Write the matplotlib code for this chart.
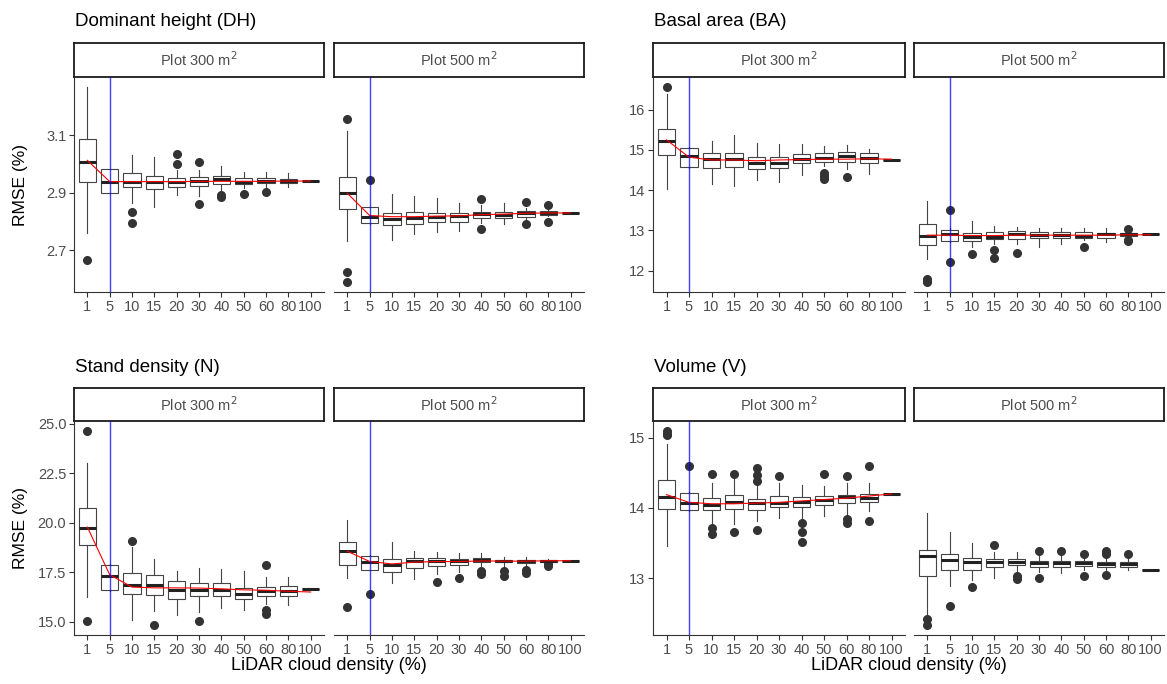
import matplotlib
matplotlib.use('Agg')
import matplotlib.pyplot as plt

plt.rcParams['font.family'] = ['Liberation Sans', 'DejaVu Sans']

densities = ['1', '5', '10', '15', '20', '30', '40', '50', '60', '80', '100']

# Dominant height (DH) - 300 m2
dh300_lo = [2.758, 2.897, 2.865, 2.848, 2.891, 2.888, 2.909, 2.915, 2.918, 2.918, 2.940]
dh300_q1 = [2.938, 2.899, 2.920, 2.912, 2.920, 2.924, 2.930, 2.930, 2.932, 2.933, 2.940]
dh300_med = [3.008, 2.937, 2.938, 2.938, 2.938, 2.940, 2.946, 2.938, 2.941, 2.940, 2.940]
dh300_q3 = [3.085, 2.981, 2.969, 2.957, 2.949, 2.955, 2.959, 2.952, 2.952, 2.948, 2.940]
dh300_hi = [3.268, 2.983, 3.029, 3.022, 2.978, 2.978, 2.994, 2.972, 2.972, 2.967, 2.940]
dh300_out = [[2.665], [], [2.831, 2.793], [], [3.034, 2.999], [3.008, 2.860],
             [2.891, 2.883], [2.895], [2.903], [], []]
dh300_mean = [3.012, 2.938, 2.938, 2.938, 2.938, 2.939, 2.939, 2.939, 2.939, 2.940, 2.940]

# Dominant height (DH) - 500 m2
dh500_lo = [2.732, 2.791, 2.735, 2.756, 2.763, 2.765, 2.795, 2.789, 2.801, 2.820, 2.828]
dh500_q1 = [2.842, 2.793, 2.786, 2.791, 2.798, 2.798, 2.810, 2.810, 2.816, 2.823, 2.828]
dh500_med = [2.897, 2.816, 2.808, 2.812, 2.816, 2.819, 2.825, 2.823, 2.829, 2.830, 2.828]
dh500_q3 = [2.955, 2.848, 2.830, 2.832, 2.830, 2.830, 2.832, 2.832, 2.835, 2.836, 2.828]
dh500_hi = [3.115, 2.850, 2.895, 2.888, 2.881, 2.865, 2.857, 2.865, 2.847, 2.840, 2.828]
dh500_out = [[3.155, 2.625, 2.588], [2.943], [], [], [], [], [2.878, 2.772], [],
             [2.866, 2.789], [2.857, 2.798], []]
dh500_mean = [2.897, 2.820, 2.816, 2.816, 2.818, 2.819, 2.823, 2.825, 2.828, 2.829, 2.829]

# Basal area (BA) - 300 m2
ba300_lo = [14.02, 14.55, 14.15, 14.10, 14.25, 14.19, 14.38, 14.60, 14.52, 14.40, 14.74]
ba300_q1 = [14.88, 14.57, 14.56, 14.58, 14.53, 14.56, 14.68, 14.71, 14.71, 14.68, 14.74]
ba300_med = [15.22, 14.84, 14.77, 14.77, 14.67, 14.68, 14.77, 14.79, 14.86, 14.79, 14.74]
ba300_q3 = [15.52, 15.06, 14.92, 14.93, 14.83, 14.82, 14.89, 14.92, 14.95, 14.92, 14.74]
ba300_hi = [16.38, 15.08, 15.21, 15.38, 15.17, 15.14, 15.14, 15.10, 15.12, 15.02, 14.74]
ba300_out = [[16.57], [], [], [], [], [], [], [14.42, 14.35, 14.27], [14.33], [], []]
ba300_mean = [15.25, 14.82, 14.75, 14.75, 14.73, 14.75, 14.76, 14.77, 14.77, 14.78, 14.77]

# Basal area (BA) - 500 m2
ba500_lo = [12.28, 12.70, 12.58, 12.67, 12.65, 12.58, 12.67, 12.75, 12.71, 12.85, 12.90]
ba500_q1 = [12.63, 12.73, 12.73, 12.78, 12.78, 12.80, 12.80, 12.80, 12.80, 12.87, 12.90]
ba500_med = [12.87, 12.92, 12.83, 12.83, 12.90, 12.88, 12.89, 12.87, 12.90, 12.90, 12.90]
ba500_q3 = [13.15, 13.02, 12.94, 12.95, 12.98, 12.96, 12.96, 12.95, 12.93, 12.93, 12.90]
ba500_hi = [13.73, 13.05, 13.23, 13.10, 13.08, 13.07, 13.06, 13.07, 13.06, 12.95, 12.90]
ba500_out = [[11.79, 11.75, 11.71], [13.50, 12.22], [12.40], [12.52, 12.31], [12.44], [],
             [], [12.58], [], [13.03, 12.75, 12.73], []]
ba500_mean = [12.88, 12.88, 12.87, 12.87, 12.88, 12.88, 12.88, 12.88, 12.88, 12.89, 12.89]

# Stand density (N) - 300 m2
n300_lo = [16.26, 16.55, 15.12, 15.54, 15.37, 15.50, 15.71, 15.59, 15.92, 15.84, 16.68]
n300_q1 = [18.90, 16.61, 16.43, 16.34, 16.18, 16.31, 16.31, 16.14, 16.31, 16.29, 16.68]
n300_med = [19.77, 17.30, 16.85, 16.85, 16.60, 16.60, 16.60, 16.43, 16.56, 16.55, 16.68]
n300_q3 = [20.75, 17.90, 17.47, 17.39, 17.05, 16.98, 16.97, 16.71, 16.76, 16.83, 16.68]
n300_hi = [23.02, 17.95, 18.78, 18.16, 17.55, 17.72, 17.66, 17.55, 17.27, 17.27, 16.68]
n300_out = [[24.66, 15.03], [], [19.08], [14.83], [], [15.03], [], [],
            [17.86, 15.59, 15.42], [], []]
n300_mean = [19.79, 17.38, 16.76, 16.72, 16.72, 16.71, 16.67, 16.62, 16.60, 16.55, 16.51]

# Stand density (N) - 500 m2
n500_lo = [17.21, 17.60, 16.97, 17.17, 17.42, 17.51, 17.76, 17.85, 17.85, 18.02, 18.08]
n500_q1 = [17.88, 17.63, 17.51, 17.71, 17.81, 17.89, 18.02, 18.02, 18.00, 18.02, 18.08]
n500_med = [18.57, 18.05, 17.89, 18.10, 18.07, 18.10, 18.12, 18.08, 18.07, 18.08, 18.08]
n500_q3 = [19.03, 18.35, 18.18, 18.23, 18.23, 18.18, 18.25, 18.13, 18.13, 18.13, 18.08]
n500_hi = [20.17, 18.38, 19.03, 18.60, 18.52, 18.47, 18.47, 18.27, 18.27, 18.20, 18.08]
n500_out = [[15.74], [16.41], [], [], [17.00], [17.21], [17.59, 17.42], [17.59, 17.34],
            [17.62, 17.47], [17.92, 17.85], []]
n500_mean = [18.57, 18.05, 17.93, 18.02, 18.05, 18.05, 18.08, 18.07, 18.07, 18.09, 18.09]

# Volume (V) - 300 m2
v300_lo = [13.46, 13.95, 13.77, 13.77, 13.81, 13.86, 13.85, 13.89, 13.92, 13.96, 14.20]
v300_q1 = [13.99, 13.97, 13.97, 13.99, 13.97, 14.01, 14.01, 14.04, 14.07, 14.08, 14.20]
v300_med = [14.16, 14.07, 14.04, 14.08, 14.07, 14.07, 14.08, 14.11, 14.16, 14.14, 14.20]
v300_q3 = [14.40, 14.21, 14.14, 14.18, 14.13, 14.17, 14.16, 14.17, 14.19, 14.20, 14.20]
v300_hi = [14.91, 14.23, 14.36, 14.45, 14.31, 14.36, 14.33, 14.32, 14.36, 14.36, 14.20]
v300_out = [[15.10, 15.06, 15.04], [14.60], [14.48, 13.72, 13.63], [14.48, 13.66],
            [14.57, 14.47, 14.38, 13.69], [14.46], [13.78, 13.66, 13.52], [14.48],
            [14.46, 13.84, 13.79], [14.60, 13.81], []]
v300_mean = [14.19, 14.08, 14.06, 14.06, 14.07, 14.08, 14.10, 14.12, 14.14, 14.17, 14.20]

# Volume (V) - 500 m2
v500_lo = [12.43, 12.89, 12.97, 13.01, 13.08, 13.09, 13.08, 13.12, 13.10, 13.12, 13.12]
v500_q1 = [13.03, 13.12, 13.12, 13.16, 13.19, 13.16, 13.16, 13.17, 13.16, 13.16, 13.12]
v500_med = [13.31, 13.26, 13.23, 13.23, 13.23, 13.22, 13.22, 13.22, 13.20, 13.20, 13.12]
v500_q3 = [13.40, 13.35, 13.29, 13.27, 13.27, 13.25, 13.24, 13.24, 13.23, 13.23, 13.12]
v500_hi = [13.93, 13.66, 13.50, 13.38, 13.38, 13.34, 13.32, 13.30, 13.30, 13.30, 13.12]
v500_out = [[12.42, 12.33], [12.60], [12.88], [13.48], [13.03, 12.99], [13.39, 13.00],
            [13.39], [13.34, 13.03], [13.39, 13.35, 13.05], [13.35], []]
v500_mean = None

W, H = 1167, 684
fig = plt.figure(figsize=(W / 100, H / 100), dpi=100)


def px(x0, y0, x1, y1):
    # pixel box (top-left origin) -> figure fraction rect
    return [x0 / W, 1 - y1 / H, (x1 - x0) / W, (y1 - y0) / H]


def stats(lo, q1, med, q3, hi, out):
    return [dict(whislo=lo[i], q1=q1[i], med=med[i], q3=q3[i], whishi=hi[i], fliers=out[i])
            for i in range(len(med))]


def limits(*groups):
    # shared y range of both facets, expanded 5% like ggplot
    vals = []
    for lo, hi, out in groups:
        vals += lo + hi + [v for o in out for v in o]
    mn, mx = min(vals), max(vals)
    pad = (mx - mn) * 0.05
    return mn - pad, mx + pad


def panel(rect_strip, rect_ax, label, data, ylim, yticks, yfmt, first, blue=True):
    lo, q1, med, q3, hi, out, mean = data
    sax = fig.add_axes(px(*rect_strip))
    sax.set_xticks([])
    sax.set_yticks([])
    for s in sax.spines.values():
        s.set_linewidth(1.3)
        s.set_color('#1a1a1a')
    sax.text(0.5, 0.5, label, ha='center', va='center', fontsize=10.5, color='#4D4D4D',
             transform=sax.transAxes)

    ax = fig.add_axes(px(*rect_ax))
    pos = list(range(1, len(densities) + 1))
    ax.bxp(stats(lo, q1, med, q3, hi, out), positions=pos, widths=0.78,
           patch_artist=True, showcaps=False,
           boxprops=dict(facecolor='white', edgecolor='#444444', linewidth=0.8),
           medianprops=dict(color='#222222', linewidth=2.2),
           whiskerprops=dict(color='#444444', linewidth=0.8),
           flierprops=dict(marker='o', markerfacecolor='#333333', markeredgecolor='#333333',
                           markersize=5.5))
    if mean is not None:
        ax.plot(pos, mean, color='red', linewidth=0.8, zorder=4)
    if blue:
        ax.axvline(2, color='blue', linewidth=1.0, alpha=0.75, zorder=5)
    ax.set_xlim(0.4, len(densities) + 0.6)
    ax.set_ylim(*ylim)
    ax.set_xticks(pos)
    ax.set_xticklabels(densities, fontsize=10.5, color='#4D4D4D')
    ax.spines['top'].set_visible(False)
    ax.spines['right'].set_visible(False)
    ax.spines['bottom'].set_color('#333333')
    ax.spines['left'].set_color('#333333')
    ax.tick_params(axis='x', length=3.5, color='#333333', pad=2)
    if first:
        ax.set_yticks(yticks)
        ax.set_yticklabels([yfmt.format(t) for t in yticks], fontsize=10.5, color='#4D4D4D')
        ax.tick_params(axis='y', length=3.5, color='#333333', pad=2)
    else:
        ax.spines['left'].set_visible(False)
        ax.set_yticks([])
    ax.set_facecolor('none')
    return ax


lab300 = 'Plot 300 m$^2$'
lab500 = 'Plot 500 m$^2$'

# top-left: DH
lim = limits((dh300_lo, dh300_hi, dh300_out), (dh500_lo, dh500_hi, dh500_out))
panel((74, 43, 324, 77), (74, 77, 324, 292), lab300,
      (dh300_lo, dh300_q1, dh300_med, dh300_q3, dh300_hi, dh300_out, dh300_mean),
      lim, [2.7, 2.9, 3.1], '{:.1f}', True)
panel((334, 43, 584, 77), (334, 77, 584, 292), lab500,
      (dh500_lo, dh500_q1, dh500_med, dh500_q3, dh500_hi, dh500_out, dh500_mean),
      lim, [2.7, 2.9, 3.1], '{:.1f}', False)

# top-right: BA
lim = limits((ba300_lo, ba300_hi, ba300_out), (ba500_lo, ba500_hi, ba500_out))
panel((653, 43, 905, 77), (653, 77, 905, 292), lab300,
      (ba300_lo, ba300_q1, ba300_med, ba300_q3, ba300_hi, ba300_out, ba300_mean),
      lim, [12, 13, 14, 15, 16], '{:.0f}', True)
panel((914, 43, 1164, 77), (914, 77, 1164, 292), lab500,
      (ba500_lo, ba500_q1, ba500_med, ba500_q3, ba500_hi, ba500_out, ba500_mean),
      lim, [12, 13, 14, 15, 16], '{:.0f}', False)

# bottom-left: N
lim = limits((n300_lo, n300_hi, n300_out), (n500_lo, n500_hi, n500_out))
panel((74, 388, 324, 421), (74, 421, 324, 635), lab300,
      (n300_lo, n300_q1, n300_med, n300_q3, n300_hi, n300_out, n300_mean),
      lim, [15.0, 17.5, 20.0, 22.5, 25.0], '{:.1f}', True)
panel((334, 388, 584, 421), (334, 421, 584, 635), lab500,
      (n500_lo, n500_q1, n500_med, n500_q3, n500_hi, n500_out, n500_mean),
      lim, [15.0, 17.5, 20.0, 22.5, 25.0], '{:.1f}', False)

# bottom-right: V
lim = limits((v300_lo, v300_hi, v300_out), (v500_lo, v500_hi, v500_out))
panel((653, 388, 905, 421), (653, 421, 905, 635), lab300,
      (v300_lo, v300_q1, v300_med, v300_q3, v300_hi, v300_out, v300_mean),
      lim, [13, 14, 15], '{:.0f}', True)
panel((914, 388, 1164, 421), (914, 421, 1164, 635), lab500,
      (v500_lo, v500_q1, v500_med, v500_q3, v500_hi, v500_out, v500_mean),
      lim, [13, 14, 15], '{:.0f}', False, blue=False)

# titles and axis titles
fig.text(75 / W, 1 - 22 / H, 'Dominant height (DH)', fontsize=13.5, va='center', ha='left')
fig.text(654 / W, 1 - 22 / H, 'Basal area (BA)', fontsize=13.5, va='center', ha='left')
fig.text(75 / W, 1 - 367 / H, 'Stand density (N)', fontsize=13.5, va='center', ha='left')
fig.text(654 / W, 1 - 367 / H, 'Volume (V)', fontsize=13.5, va='center', ha='left')

fig.text(21 / W, 1 - 185 / H, 'RMSE (%)', fontsize=12.5, rotation=90, va='center', ha='center')
fig.text(21 / W, 1 - 528 / H, 'RMSE (%)', fontsize=12.5, rotation=90, va='center', ha='center')
fig.text(329 / W, 1 - 665 / H, 'LiDAR cloud density (%)', fontsize=13, va='center', ha='center')
fig.text(909 / W, 1 - 665 / H, 'LiDAR cloud density (%)', fontsize=13, va='center', ha='center')

fig.savefig('out.png', dpi=100)
